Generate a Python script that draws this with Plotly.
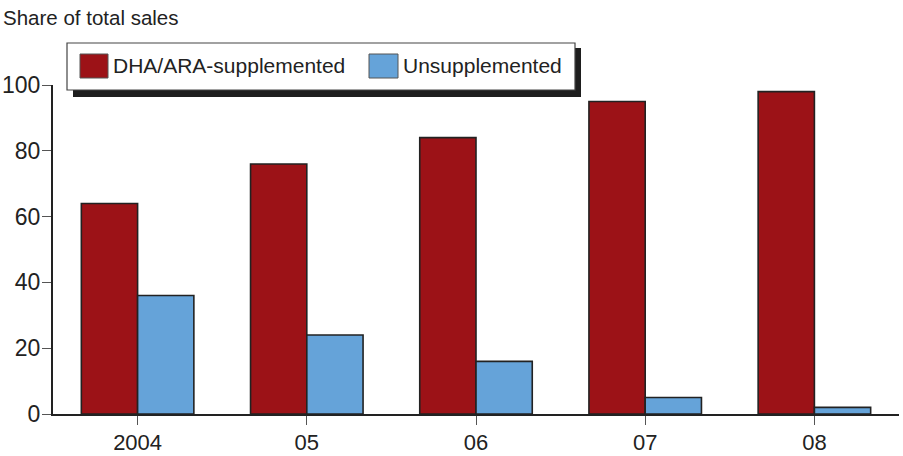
import plotly.graph_objects as go

# Share of total infant-formula sales by type
years = ["2004", "05", "06", "07", "08"]
supplemented = [64, 76, 84, 95, 98]
unsupplemented = [36, 24, 16, 5, 2]

series_names = ["DHA/ARA-supplemented", "Unsupplemented"]
RED = "#9c1217"
BLUE = "#65a3d9"
INK = "#222222"
FONT = "Liberation Sans, Arial, sans-serif"

W, H = 903, 456
ML, MR, MT, MB = 53, 4, 85, 42
PW, PH = W - ML - MR, H - MT - MB


def px(x):
    return (x - ML) / PW


def py(y):
    return (H - MB - y) / PH


fig = go.Figure()
for name, vals, col in [(series_names[0], supplemented, RED),
                        (series_names[1], unsupplemented, BLUE)]:
    fig.add_trace(go.Bar(
        x=years, y=vals, name=name,
        marker=dict(color=col, line=dict(color=INK, width=1.6)),
        showlegend=False,
    ))

shapes = [
    # legend drop shadow
    dict(type="rect", xref="paper", yref="paper",
         x0=px(73), x1=px(581), y0=py(97), y1=py(48),
         fillcolor="#1e1e1e", line=dict(width=0), layer="above"),
    # legend box
    dict(type="rect", xref="paper", yref="paper",
         x0=px(67), x1=px(575), y0=py(90), y1=py(43),
         fillcolor="white", line=dict(color="#444444", width=1.2), layer="above"),
    # swatches
    dict(type="rect", xref="paper", yref="paper",
         x0=px(80), x1=px(108), y0=py(78), y1=py(54),
         fillcolor=RED, line=dict(color="#555555", width=1), layer="above"),
    dict(type="rect", xref="paper", yref="paper",
         x0=px(369), x1=px(398), y0=py(78), y1=py(54),
         fillcolor=BLUE, line=dict(color="#555555", width=1), layer="above"),
]

annotations = [
    dict(text="Share of total sales", xref="paper", yref="paper",
         x=px(1), y=py(18), xanchor="left", yanchor="middle", showarrow=False,
         font=dict(size=20.5, color=INK, family=FONT)),
    dict(text=series_names[0], xref="paper", yref="paper",
         x=px(111), y=py(66), xanchor="left", yanchor="middle", showarrow=False,
         font=dict(size=21, color=INK, family=FONT)),
    dict(text=series_names[1], xref="paper", yref="paper",
         x=px(401), y=py(66), xanchor="left", yanchor="middle", showarrow=False,
         font=dict(size=21, color=INK, family=FONT)),
]

fig.update_layout(
    width=W, height=H,
    margin=dict(l=ML, r=MR, t=MT, b=MB, pad=0),
    paper_bgcolor="white", plot_bgcolor="white",
    barmode="group", bargap=0.335, bargroupgap=0,
    shapes=shapes, annotations=annotations,
    font=dict(family=FONT, size=22, color=INK),
)
fig.update_xaxes(
    type="category", range=[-0.5, 4.5], automargin=False,
    showline=True, linecolor=INK, linewidth=2,
    ticks="outside", ticklen=9, tickwidth=1.2, tickcolor="#555555",
    showgrid=False, zeroline=False,
    tickfont=dict(size=22, color=INK),
    ticklabelstandoff=-1,
)
fig.update_yaxes(
    range=[0, 100], tickvals=[0, 20, 40, 60, 80, 100], automargin=False,
    showline=True, linecolor=INK, linewidth=2,
    ticks="outside", ticklen=9, tickwidth=1.2, tickcolor="#555555",
    showgrid=False, zeroline=False,
    tickfont=dict(size=23, color=INK),
    ticklabelstandoff=-3,
)

fig.write_html("out.html")
